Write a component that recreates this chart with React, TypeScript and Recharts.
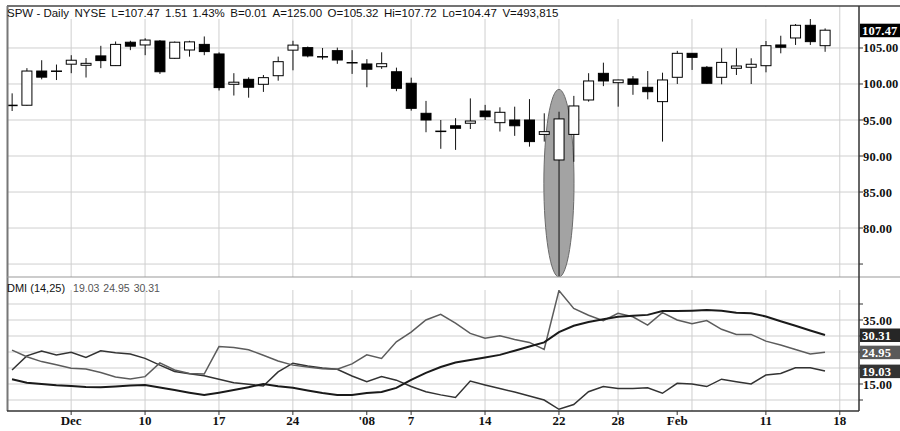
import { Bar, CartesianGrid, ComposedChart, Line, ReferenceArea, XAxis, YAxis } from "recharts"

// daily bars, 27 Nov 2007 .. 15 Feb 2008
const opens = [
  97.0, 97.05, 101.8, 101.7, 102.75, 102.6, 103.9, 102.55, 105.8, 105.42,
  105.97, 103.57, 104.72, 105.5, 104.17, 99.96, 100.65, 99.96, 101.15, 104.7,
  105.05, 103.8, 104.63, 103.0, 102.78, 102.4, 101.7, 100.1, 95.93, 93.4,
  94.2, 94.55, 96.25, 94.63, 95.0, 95.0, 93.0, 89.45, 93.0, 97.78,
  101.48, 100.18, 100.7, 99.54, 97.55, 100.93, 104.26, 102.32, 100.93, 102.18,
  102.32, 102.54, 105.42, 106.39, 108.15, 105.32,
]
const highs = [
  98.7, 102.2, 103.3, 102.7, 104.0, 103.6, 105.3, 105.9, 106.0, 106.35,
  106.1, 105.9, 106.0, 106.6, 104.4, 101.5, 100.93, 101.25, 103.8, 106.0,
  105.2, 105.0, 105.05, 104.7, 103.45, 104.4, 102.27, 100.88, 97.65, 95.0,
  95.25, 98.0, 97.1, 96.76, 96.85, 97.9, 95.93, 96.15, 98.35, 101.5,
  102.96, 100.6, 101.1, 101.8, 101.57, 104.6, 104.3, 102.5, 104.96, 104.96,
  103.57, 105.97, 106.7, 108.33, 109.03, 107.72,
]
const lows = [
  96.25, 97.0, 100.65, 100.55, 101.5, 100.9, 102.2, 102.5, 104.7, 104.0,
  101.4, 103.5, 103.8, 104.0, 99.1, 98.4, 98.1, 98.9, 100.46, 101.9,
  103.7, 103.4, 102.8, 101.4, 99.55, 102.1, 99.0, 96.3, 93.3, 91.0,
  90.85, 93.75, 95.0, 93.4, 92.8, 91.3, 92.0, 73.3, 89.2, 97.55,
  99.7, 96.85, 98.5, 97.87, 92.0, 100.0, 101.95, 100.05, 99.96, 101.25,
  100.0, 101.62, 104.26, 105.42, 105.42, 104.47,
]
const closes = [
  97.05, 101.8, 100.95, 101.85, 103.3, 102.87, 103.25, 105.5, 105.25, 106.1,
  101.7, 105.8, 105.85, 104.5, 99.5, 100.25, 99.55, 100.88, 103.1, 105.4,
  103.9, 103.75, 103.33, 102.9, 102.05, 102.82, 99.4, 96.62, 95.0, 93.45,
  93.85, 94.86, 95.46, 96.07, 94.2, 92.0, 93.38, 95.15, 96.95, 100.42,
  100.42, 100.56, 99.96, 98.93, 100.56, 104.26, 103.7, 100.1, 103.0, 102.5,
  102.74, 105.32, 105.1, 108.15, 105.88, 107.47,
]

const plusDI = [
  19.4, 23.8, 25.3, 24.1, 24.9, 23.3, 25.4, 24.8, 24.4, 23.0,
  20.9, 18.9, 18.2, 17.6, 16.5, 15.4, 14.9, 14.4, 18.8, 21.5,
  20.6, 20.0, 19.6, 17.5, 15.7, 17.3, 16.2, 14.2, 12.6, 11.6,
  10.8, 15.9, 14.7, 13.6, 12.5, 11.25, 10.0, 7.1, 8.6, 12.6,
  14.2, 13.6, 13.6, 13.85, 12.1, 15.2, 15.0, 14.2, 16.5, 15.7,
  15.0, 17.8, 18.3, 20.1, 20.1, 19.03,
]
const minusDI = [
  25.6, 23.5, 22.0, 21.0, 19.9, 19.7, 18.6, 17.2, 16.6, 17.3,
  21.6, 19.4, 18.3, 18.1, 26.7, 26.4, 25.7, 24.0, 22.2, 20.9,
  20.3, 19.8, 19.6, 21.3, 24.1, 23.0, 28.2, 31.2, 35.0, 36.8,
  34.0, 30.8, 29.3, 30.1, 28.9, 28.0, 25.8, 44.2, 38.6, 36.5,
  34.8, 37.1, 36.0, 33.4, 37.3, 35.0, 33.8, 34.8, 32.1, 30.5,
  30.5, 28.4, 27.2, 25.8, 24.4, 24.95,
]
const adx = [
  16.5, 15.4, 15.0, 14.6, 14.4, 14.1, 14.0, 14.2, 14.5, 14.7,
  13.9, 13.1, 12.3, 11.6, 12.3, 13.1, 14.0, 15.0, 14.3, 13.8,
  13.0, 12.2, 11.6, 11.6, 12.2, 12.5, 13.8, 16.3, 18.5, 20.3,
  21.7, 22.5, 23.3, 24.1, 25.4, 26.7, 28.0, 31.2, 33.2, 34.4,
  35.2, 36.0, 36.3, 36.6, 37.8, 37.8, 37.9, 38.1, 37.9, 37.3,
  37.1, 36.1, 34.6, 33.2, 31.7, 30.31,
]

const xTickIdx = [4, 9, 14, 19, 24, 27, 32, 37, 41, 45, 51, 56]
const xTickLabels = ["Dec", "10", "17", "24", "'08", "7", "14", "22", "28", "Feb", "11", "18"]
const gridIdx = [4, 9, 14, 19, 23, 27, 32, 37, 41, 46, 51, 56]
const priceTicks = [75, 80, 85, 90, 95, 100, 105]
const dmiTicks = [10, 15, 20, 25, 30, 35, 40]
const dmiLabeled = [15, 35]

const lastPrice = 107.47
const lastPlus = 19.03
const lastMinus = 24.95
const lastAdx = 30.31
const markIdx = 37 // circled bar, 22 Jan

const headerParts = ["SPW - Daily", "NYSE", "L=107.47", "1.51", "1.43%", "B=0.01", "A=125.00", "O=105.32", "Hi=107.72", "Lo=104.47", "V=493,815"]

const candles = opens.map((o, i) => ({
  i,
  open: o,
  high: highs[i],
  low: lows[i],
  close: closes[i],
  range: [lows[i], highs[i]],
}))
const dmi = adx.map((a, i) => ({ i, adx: a, plus: plusDI[i], minus: minusDI[i] }))

const xDomain = [-0.34, 57.3]
const serif = "'Liberation Serif', 'Times New Roman', serif"
const sans = "'Liberation Sans', Arial, sans-serif"

function Candle(props: any) {
  const { x, y, width, height, payload } = props
  const { open, close, high, low } = payload
  const py = (v: number) => y + ((high - v) / (high - low)) * height
  const cx = x + width / 2
  const top = py(Math.max(open, close))
  const bot = py(Math.min(open, close))
  const bh = bot - top
  return (
    <g>
      <line x1={cx} x2={cx} y1={y} y2={y + height} stroke="#111" strokeWidth={1} />
      {bh < 1.5 ? (
        <line x1={x} x2={x + width} y1={(top + bot) / 2} y2={(top + bot) / 2} stroke="#000" strokeWidth={1.5} />
      ) : (
        <rect x={x + 0.5} y={top} width={width - 1} height={bh} fill={close >= open ? "#fff" : "#000"} stroke="#000" strokeWidth={1} />
      )}
    </g>
  )
}

function ValueBox({ x, y, v, fill }: { x: number; y: number; v: number; fill: string }) {
  return (
    <g>
      <rect x={x + 1} y={y - 6.5} width={45} height={13.5} fill={fill} />
      <text x={x + 3} y={y} dy={4.5} fill="#fff" fontSize={12.5} fontWeight="bold" fontFamily={serif} letterSpacing={0.2}>
        {v.toFixed(2)}
      </text>
    </g>
  )
}

function AxisLabel({ x, y, v }: { x: number; y: number; v: number }) {
  return (
    <text x={x + 4} y={y} dy={4.5} fill="#111" fontSize={12.5} fontWeight="bold" fontFamily={serif} letterSpacing={0.2}>
      {v.toFixed(2)}
    </text>
  )
}

function PriceTick(props: any) {
  const { x, y, payload } = props
  const v = payload.value
  if (v === lastPrice) return <ValueBox x={x} y={y} v={v} fill="#000" />
  return (
    <g>
      <line x1={x} x2={x + 4} y1={y} y2={y} stroke="#333" />
      {v >= 80 && <AxisLabel x={x} y={y} v={v} />}
    </g>
  )
}

function DmiTick(props: any) {
  const { x, y, payload } = props
  const v = payload.value
  if (v === lastAdx) return <ValueBox x={x} y={y} v={v} fill="#262626" />
  if (v === lastMinus) return <ValueBox x={x} y={y} v={v} fill="#5a5a5a" />
  if (v === lastPlus) return <ValueBox x={x} y={y} v={v} fill="#333" />
  return (
    <g>
      <line x1={x} x2={x + 4} y1={y} y2={y} stroke="#333" />
      {dmiLabeled.includes(v) && <AxisLabel x={x} y={y} v={v} />}
    </g>
  )
}

function Ellipse(props: any) {
  const { x, y, width, height } = props
  return <ellipse cx={x + width / 2} cy={y + height / 2} rx={width / 2} ry={height / 2} fill="#a3a3a3" stroke="#6a6a6a" strokeWidth={1} />
}

export default function App() {
  return (
    <div style={{ position: "absolute", left: 0, top: 0, width: 900, height: 431, background: "#fff", overflow: "hidden" }}>
      <div style={{ position: "absolute", left: 0, top: 0 }}>
        <ComposedChart width={900} height={277} data={candles} margin={{ top: 6, right: 0, bottom: 0, left: 7 }}>
          <CartesianGrid stroke="#cfcfcf" horizontalValues={priceTicks} verticalValues={gridIdx} />
          <XAxis type="number" dataKey="i" domain={xDomain} hide allowDataOverflow />
          <YAxis
            type="number"
            orientation="right"
            width={41}
            domain={[73.2, 110.83]}
            allowDataOverflow
            ticks={[...priceTicks, lastPrice]}
            interval={0}
            axisLine={false}
            tickLine={false}
            tickSize={0}
            tickMargin={0}
            tick={PriceTick}
          />
          <ReferenceArea x1={markIdx - 1.02} x2={markIdx + 1.02} y1={73.2} y2={99.25} ifOverflow="visible" shape={Ellipse} />
          <Bar dataKey="range" barSize={11} shape={Candle} isAnimationActive={false} />
        </ComposedChart>
      </div>
      <div style={{ position: "absolute", left: 0, top: 277 }}>
        <ComposedChart width={900} height={154} data={dmi} margin={{ top: 13, right: 0, bottom: 0, left: 7 }}>
          <CartesianGrid stroke="#cfcfcf" horizontalValues={dmiTicks} verticalValues={gridIdx} />
          <XAxis
            type="number"
            dataKey="i"
            domain={xDomain}
            allowDataOverflow
            ticks={xTickIdx}
            interval={0}
            height={20}
            axisLine={false}
            tickSize={4}
            tickMargin={1}
            tickLine={{ stroke: "#333" }}
            tickFormatter={(v: number) => xTickLabels[xTickIdx.indexOf(v)]}
            tick={{ fill: "#111", fontSize: 13, fontWeight: "bold", fontFamily: serif }}
          />
          <YAxis
            type="number"
            orientation="right"
            width={41}
            domain={[6.5625, 44.375]}
            allowDataOverflow
            ticks={[...dmiTicks, lastAdx, lastMinus, lastPlus]}
            interval={0}
            axisLine={false}
            tickLine={false}
            tickSize={0}
            tickMargin={0}
            tick={DmiTick}
          />
          <Line dataKey="plus" type="linear" stroke="#333" strokeWidth={1.5} dot={false} isAnimationActive={false} />
          <Line dataKey="minus" type="linear" stroke="#5c5c5c" strokeWidth={1.5} dot={false} isAnimationActive={false} />
          <Line dataKey="adx" type="linear" stroke="#1a1a1a" strokeWidth={2} dot={false} isAnimationActive={false} />
        </ComposedChart>
      </div>
      <svg width={900} height={431} style={{ position: "absolute", left: 0, top: 0, pointerEvents: "none" }}>
        <rect x={8} y={7} width={822} height={12} fill="#fff" />
        <rect x={8} y={278} width={155} height={12} fill="#fff" />
        <line x1={7} x2={900} y1={6} y2={6} stroke="#444" strokeWidth={1.5} />
        <line x1={7.5} x2={7.5} y1={6} y2={411} stroke="#777" strokeWidth={2} />
        <line x1={7} x2={900} y1={277} y2={277} stroke="#999" strokeWidth={1} />
        <line x1={859} x2={859} y1={6} y2={411} stroke="#333" strokeWidth={1.5} />
        <line x1={7} x2={859} y1={411} y2={411} stroke="#333" strokeWidth={1.5} />
        <text x={7} y={17} fontSize={11.5} fontFamily={sans} fill="#111">
          {headerParts.map((p, k) => (
            <tspan key={k} dx={k === 0 ? 0 : 5.5}>
              {p}
            </tspan>
          ))}
        </text>
        <text x={7} y={292} fontSize={11} fontFamily={sans} fill="#111">
          <tspan>DMI (14,25)</tspan>
          <tspan dx={8} fill="#555" fontSize={10.5}>{lastPlus.toFixed(2)}</tspan>
          <tspan dx={4} fill="#555" fontSize={10.5}>{lastMinus.toFixed(2)}</tspan>
          <tspan dx={4} fill="#555" fontSize={10.5}>{lastAdx.toFixed(2)}</tspan>
        </text>
      </svg>
    </div>
  )
}
